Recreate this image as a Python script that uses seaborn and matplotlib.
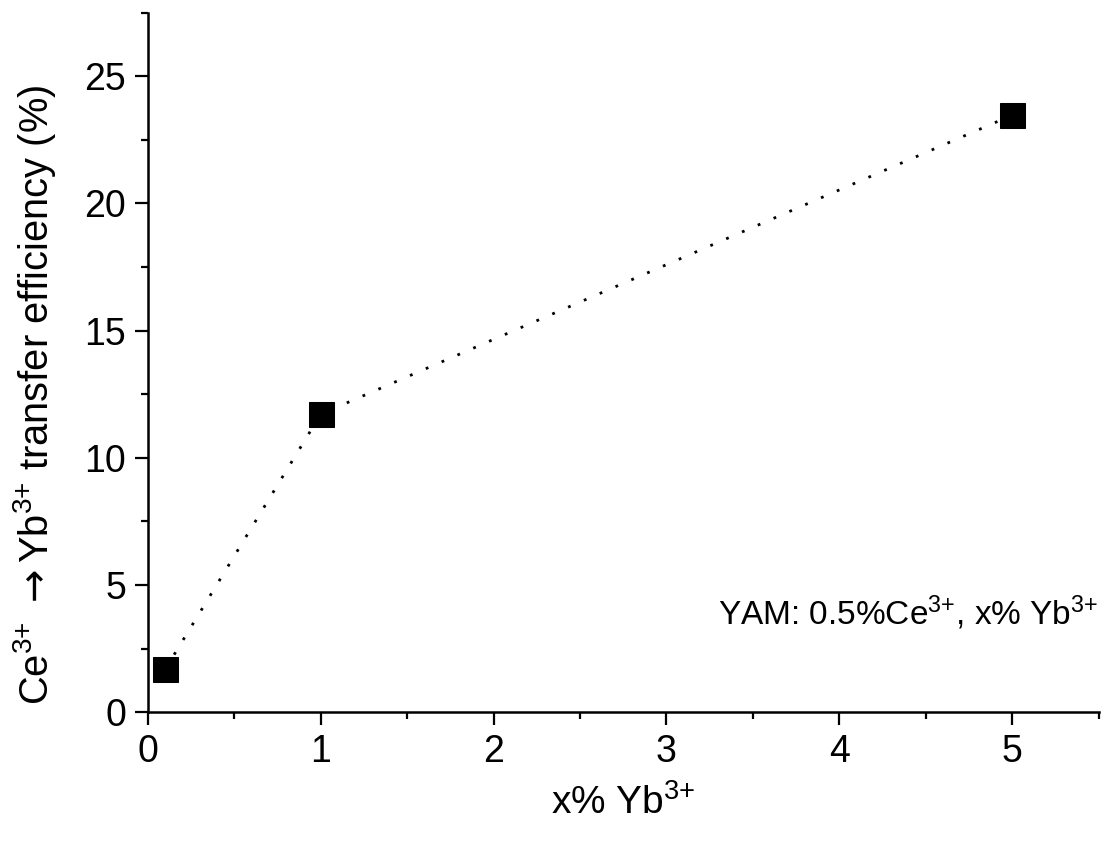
import matplotlib
matplotlib.use("Agg")
import matplotlib.pyplot as plt
import seaborn as sns
import pandas as pd
from matplotlib.ticker import MultipleLocator, AutoMinorLocator

yb_conc = [0.1, 1.0, 5.0]
efficiency = [1.69, 11.72, 23.47]

sns.set_theme(style="ticks")
plt.rcParams['font.family'] = ['Liberation Sans', 'DejaVu Sans']
plt.rcParams['mathtext.fontset'] = 'custom'
plt.rcParams['mathtext.rm'] = 'Liberation Sans'
plt.rcParams['mathtext.it'] = 'Liberation Sans:italic'
plt.rcParams['mathtext.sf'] = 'DejaVu Sans'
plt.rcParams['text.color'] = 'black'
plt.rcParams['axes.labelcolor'] = 'black'
plt.rcParams['xtick.color'] = 'black'
plt.rcParams['ytick.color'] = 'black'

df = pd.DataFrame({"x": yb_conc, "y": efficiency})

fig = plt.figure(figsize=(11.12, 8.41), dpi=100)
ax = fig.add_axes([0.133, 0.153, 0.855, 0.832])

sns.lineplot(data=df, x="x", y="y", ax=ax, color="black", linestyle=(0, (1, 5.2)),
             linewidth=2.0, marker="s", markersize=18, markeredgecolor="black",
             markerfacecolor="black")

ax.set_xlim(0, 5.5)
ax.set_ylim(0, 27.5)
ax.xaxis.set_major_locator(MultipleLocator(1))
ax.xaxis.set_minor_locator(AutoMinorLocator(2))
ax.yaxis.set_major_locator(MultipleLocator(5))
ax.yaxis.set_minor_locator(AutoMinorLocator(2))

for s in ["top", "right"]:
    ax.spines[s].set_visible(False)
for s in ["left", "bottom"]:
    ax.spines[s].set_linewidth(1.8)
    ax.spines[s].set_color("black")

ax.tick_params(which="major", length=9.5, width=1.6, labelsize=27, colors="black", pad=6)
ax.tick_params(which="minor", length=5, width=1.6, colors="black")

sup = r"$^{3{+}}$"
ax.set_xlabel("x% Yb" + sup, fontsize=28, labelpad=10)
ax.set_ylabel("Ce" + sup + r" $\mathsf{\rightarrow}$Yb" + sup + " transfer efficiency (%)",
              fontsize=28.7)
ax.yaxis.set_label_coords(-0.095, 0.4535)

ax.text(1.0, 0.143, "YAM: 0.5%Ce" + sup + ", x% Yb" + sup, transform=ax.transAxes,
        ha="right", va="center", fontsize=24)

fig.savefig("out.png", dpi=100)
